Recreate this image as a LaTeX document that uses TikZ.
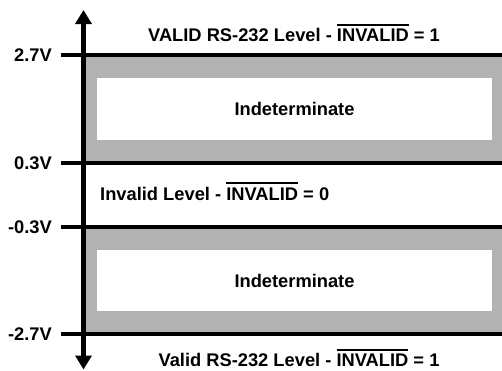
\documentclass[tikz,border=0pt]{standalone}
\usepackage{fontspec}
\setmainfont{Liberation Sans}
\usetikzlibrary{arrows.meta}
\newcommand{\ovl}[1]{\vbox{\hrule height 1.5pt\kern 3.5pt\hbox{#1}}}
\tikzset{
  lbl/.style={inner sep=0pt, font=\fontsize{18.3}{20}\selectfont\bfseries},
  level/.style={line width=4pt},
  band/.style={fill=black!30, draw=none},
  hole/.style={fill=white, draw=none},
  axis/.style={line width=5pt, {Triangle[length=14pt,width=16pt]}-{Triangle[length=14pt,width=16pt]}}
}
\begin{document}
\begin{tikzpicture}[x=1pt,y=1pt]
\useasboundingbox (0,0) rectangle (502,-370);
% bands
\fill[band] (83,-55) rectangle (502,-162.7);
\fill[hole] (97,-77.5) rectangle (492,-139.5);
\fill[band] (83,-226.7) rectangle (502,-334);
\fill[hole] (97,-250) rectangle (492,-311);
% levels
\coordinate (l1a) at (61,-55);   \coordinate (l1b) at (502,-55);
\coordinate (l2a) at (61,-162.7); \coordinate (l2b) at (502,-162.7);
\coordinate (l3a) at (61,-226.7); \coordinate (l3b) at (502,-226.7);
\coordinate (l4a) at (61,-334);  \coordinate (l4b) at (502,-334);
\draw[level] (l1a) -- (l1b);
\draw[level] (l2a) -- (l2b);
\draw[level] (l3a) -- (l3b);
\draw[level] (l4a) -- (l4b);
% axis
\coordinate (top) at (83.5,-10);
\coordinate (bot) at (83.5,-369.5);
\draw[axis] (top) -- (bot);
% voltage labels
\node[lbl, anchor=base east] (v1) at (52,-61.5) {2.7V};
\node[lbl, anchor=base east] (v2) at (52,-169.2) {0.3V};
\node[lbl, anchor=base east] (v3) at (52,-233.2) {-0.3V};
\node[lbl, anchor=base east] (v4) at (52,-340.5) {-2.7V};
% texts
\node[lbl, anchor=base] (t1) at (294,-41.7) {VALID RS-232 Level - \ovl{INVALID} = 1};
\node[lbl, anchor=base] (i1) at (294.5,-115) {Indeterminate};
\node[lbl, anchor=base west] (t2) at (100,-200) {Invalid Level - \ovl{INVALID} = 0};
\node[lbl, anchor=base] (i2) at (294.5,-287) {Indeterminate};
\node[lbl, anchor=base] (t3) at (299,-366.7) {Valid RS-232 Level - \ovl{INVALID} = 1};
\end{tikzpicture}
\end{document}
